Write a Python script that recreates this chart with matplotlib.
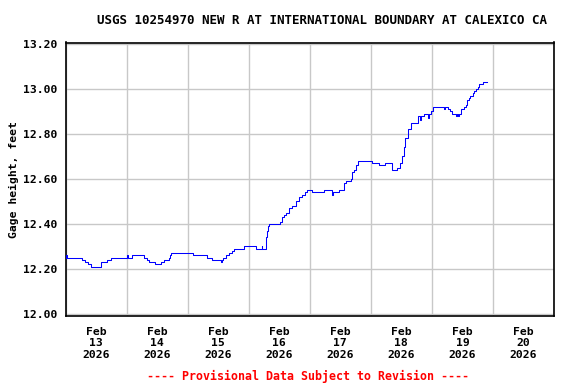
import datetime as dt
import matplotlib
matplotlib.use("Agg")
import matplotlib.pyplot as plt
import matplotlib.dates as mdates

# step change points: hours after 2026-02-13 00:00, gage height (ft)
hours = [0.0, 0.25, 0.75, 6.6, 7.5, 8.7, 10.2, 14.0, 16.4, 17.7,
         24.0, 24.5, 26.0, 30.8, 32.1, 33.0, 35.0, 37.4, 38.6, 40.5,
         41.0, 41.3, 50.0, 55.5, 57.7, 61.0, 61.5, 62.0, 63.0, 64.3,
         65.6, 66.2, 70.2, 74.8, 77.1, 77.4, 78.8, 79.1, 79.5, 80.0,
         84.3, 84.9, 85.7, 86.6, 87.7, 89.2, 90.5, 91.7, 92.8, 94.0,
         95.1, 97.0, 101.5, 104.6, 105.3, 107.4, 109.5, 110.2, 112.1, 112.8,
         113.4, 114.1, 114.8, 120.3, 123.1, 125.5, 128.5, 130.4, 131.3, 132.4,
         133.0, 133.6, 134.5, 135.6, 138.4, 139.2, 139.8, 140.9, 142.6, 142.9,
         143.6, 144.5, 148.6, 149.0, 150.2, 151.2, 152.1, 153.4, 153.7, 154.3,
         154.6, 155.4, 156.5, 157.4, 158.0, 158.6, 159.1, 160.0, 160.7, 161.3,
         162.0, 162.6, 163.9, 165.6]
gage = [12.25, 12.26, 12.25, 12.24, 12.23, 12.22, 12.21, 12.23, 12.24, 12.25,
        12.26, 12.25, 12.26, 12.25, 12.24, 12.23, 12.22, 12.23, 12.24, 12.25,
        12.26, 12.27, 12.26, 12.25, 12.24, 12.23, 12.24, 12.25, 12.26, 12.27,
        12.28, 12.29, 12.30, 12.29, 12.30, 12.29, 12.34, 12.37, 12.39, 12.40,
        12.41, 12.43, 12.44, 12.45, 12.47, 12.48, 12.50, 12.52, 12.53, 12.54,
        12.55, 12.54, 12.55, 12.53, 12.54, 12.55, 12.58, 12.59, 12.60, 12.63,
        12.64, 12.66, 12.68, 12.67, 12.66, 12.67, 12.64, 12.65, 12.67, 12.70,
        12.74, 12.78, 12.82, 12.85, 12.88, 12.86, 12.88, 12.89, 12.87, 12.89,
        12.90, 12.92, 12.91, 12.92, 12.91, 12.90, 12.89, 12.88, 12.89, 12.88,
        12.89, 12.91, 12.92, 12.93, 12.95, 12.96, 12.97, 12.98, 12.99, 13.00,
        13.01, 13.02, 13.03, 13.03]

title = "USGS 10254970 NEW R AT INTERNATIONAL BOUNDARY AT CALEXICO CA"
footer = "---- Provisional Data Subject to Revision ----"
yticks = [12.00, 12.20, 12.40, 12.60, 12.80, 13.00, 13.20]

start = dt.datetime(2026, 2, 13)
times = [start + dt.timedelta(hours=h) for h in hours]
days = [start + dt.timedelta(days=i) for i in range(9)]

font = "DejaVu Sans Mono"

fig = plt.figure(figsize=(5.76, 3.84), dpi=100)
ax = fig.add_axes([65.5 / 576, 1 - 316 / 384, 488.5 / 576, 273.5 / 384])

ax.step(times, gage, where="post", color="#0000ff", lw=0.75, zorder=3)

ax.set_xlim(days[0], days[-1])
ax.set_ylim(11.991, 13.206)

ax.set_yticks(yticks)
ax.set_yticklabels(["%.2f" % v for v in yticks], family=font,
                   weight="bold", fontsize=8.2)

# gridlines at midnight, labels at noon
ax.set_xticks(days)
ax.set_xticklabels([])
ax.set_xticks([d + dt.timedelta(hours=12) for d in days[:-1]], minor=True)
ax.set_xticklabels([d.strftime("%b\n%d\n%Y").replace("\n0", "\n")
                    for d in days[:-1]], minor=True, family=font,
                   weight="bold", fontsize=8.2, linespacing=1.15)
ax.tick_params(axis="x", which="both", length=0, pad=8)
ax.tick_params(axis="y", length=0, pad=6)

ax.grid(True, which="major", color="#c8c8c8", lw=1.0)
ax.set_axisbelow(True)
for s in ax.spines.values():
    s.set_color("black")
    s.set_linewidth(1.2)

ax.set_ylabel("Gage height, feet", family=font, weight="bold",
              fontsize=8.2, labelpad=3)
fig.text(322 / 576, 1 - 20 / 384, title, ha="center", va="center",
         family=font, weight="bold", fontsize=9.0)
fig.text(0.535, 1 - 376 / 384, footer, ha="center", va="center",
         family=font, weight="bold", fontsize=8.4, color="#ff0000")

fig.savefig("out.png", dpi=100)
